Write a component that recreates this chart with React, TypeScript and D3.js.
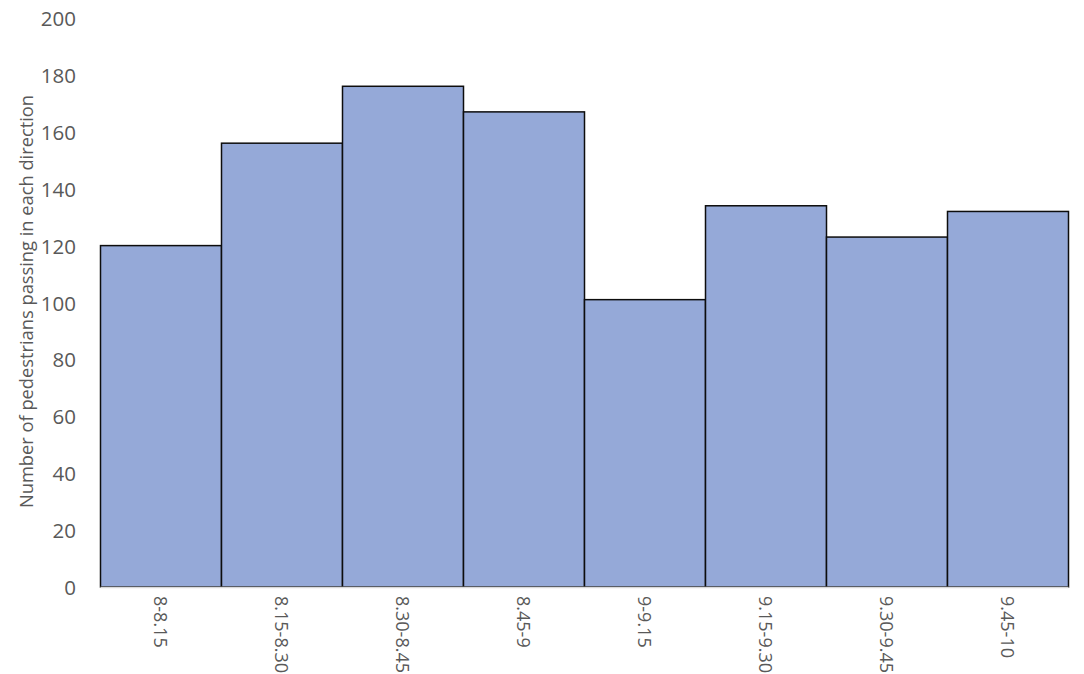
import React from "react";
import * as d3 from "d3";

const categories: string[] = ["8-8.15", "8.15-8.30", "8.30-8.45", "8.45-9", "9-9.15", "9.15-9.30", "9.30-9.45", "9.45-10"];
const pedestrians: number[] = [120, 156, 176, 167, 101, 134, 123, 132];
const yTicks: number[] = [0, 20, 40, 60, 80, 100, 120, 140, 160, 180, 200];
const yTitle = "Number of pedestrians passing in each direction";

const W = 1084;
const H = 674;
const left = 100.5;
const right = 1068.5;
const top = 18;
const bottom = 587;
const textColor = "#595959";
const font = "'Open Sans', 'Liberation Sans', sans-serif";

export default function App() {
  const x = d3.scaleBand<string>().domain(categories).range([left, right]).padding(0);
  const y = d3.scaleLinear().domain([0, 200]).range([bottom, top]);

  return (
    <svg width={W} height={H} style={{ position: "absolute", left: 0, top: 0, background: "#fff" }}>
      {categories.map((c, i) => (
        <rect
          key={c}
          x={x(c)}
          y={y(pedestrians[i])}
          width={x.bandwidth()}
          height={y(0) - y(pedestrians[i])}
          fill="#95A9D8"
          stroke="#0d0d0d"
          strokeWidth={1.5}
        />
      ))}
      <line x1={left} x2={right} y1={y(0) + 0.5} y2={y(0) + 0.5} stroke="#d9d9d9" strokeWidth={1.5} />
      {yTicks.map((t) => (
        <text
          key={t}
          x={76}
          y={y(t)}
          textAnchor="end"
          dominantBaseline="central"
          fontFamily={font}
          fontSize={20.5}
          fill={textColor}
        >
          {t}
        </text>
      ))}
      {categories.map((c) => (
        <text
          key={"l" + c}
          transform={`translate(${(x(c) ?? 0) + x.bandwidth() / 2},${bottom + 9}) rotate(90)`}
          textAnchor="start"
          dominantBaseline="central"
          fontFamily={font}
          fontSize={18}
          fill={textColor}
        >
          {c}
        </text>
      ))}
      <text
        transform={`translate(25,${(95 + 508) / 2}) rotate(-90)`}
        textAnchor="middle"
        dominantBaseline="central"
        fontFamily={font}
        fontSize={18.3}
        fill={textColor}
      >
        {yTitle}
      </text>
    </svg>
  );
}
